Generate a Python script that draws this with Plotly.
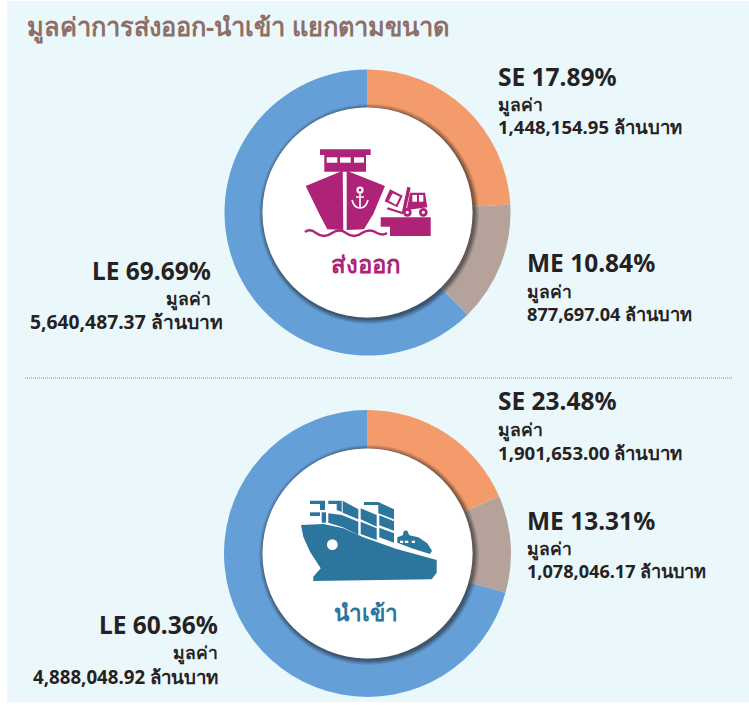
import plotly.graph_objects as go

W, H = 749, 707

# Data
segments = ["SE", "ME", "LE"]
export_drawn_share = [24.1, 13.6, 62.3]
import_drawn_share = [18.5, 10.9, 70.6]
slice_colors = ["#F49B6C", "#B5A39B", "#659FD8"]

title_text = "มูลค่าการส่งออก-นำเข้า แยกตามขนาด"
value_word = "มูลค่า"
unit_word = "ล้านบาท"
export_pct = ["17.89%", "10.84%", "69.69%"]
export_val = ["1,448,154.95", "877,697.04", "5,640,487.37"]
import_pct = ["23.48%", "13.31%", "60.36%"]
import_val = ["1,901,653.00", "1,078,046.17", "4,888,048.92"]

PANEL = "#EBF8FB"
INK = "#262223"
MAG = "#AE2277"
TEAL = "#2C769E"
FONT = "Noto Sans, Lato, DejaVu Sans, sans-serif"

CX, CY_TOP, CY_BOT = 367.5, 212.5, 553.5
R_TOP, R_BOT = 143, 143.5
RI = 105


def pie(vals, cy, r):
    return go.Pie(
        labels=segments, values=vals, sort=False, direction="clockwise", rotation=0,
        hole=RI / r, textinfo="none", hoverinfo="label+percent",
        marker=dict(colors=slice_colors, line=dict(width=0)), showlegend=False,
        domain=dict(x=[(CX - r) / W, (CX + r) / W], y=[1 - (cy + r) / H, 1 - (cy - r) / H]),
    )


fig = go.Figure([pie(export_drawn_share, CY_TOP, R_TOP), pie(import_drawn_share, CY_BOT, R_BOT)])
shapes = []


def rect(x0, y0, x1, y1, color, layer="above"):
    shapes.append(dict(type="rect", xref="x", yref="y", x0=x0, y0=y0, x1=x1, y1=y1,
                       fillcolor=color, line_width=0, layer=layer))


def circle(cx, cy, r, color):
    shapes.append(dict(type="circle", xref="x", yref="y", x0=cx - r, x1=cx + r, y0=cy - r, y1=cy + r,
                       fillcolor=color, line_width=0, layer="above"))


def poly(pts, color, ox, oy):
    path = "M " + " L ".join(f"{ox + a / 3:.1f},{oy + b / 3:.1f}" for a, b in pts) + " Z"
    shapes.append(dict(type="path", xref="x", yref="y", path=path, fillcolor=color, line_width=0, layer="above"))


def stroke(path, color, width):
    shapes.append(dict(type="path", xref="x", yref="y", path=path, line=dict(color=color, width=width),
                       fillcolor="rgba(0,0,0,0)", layer="above"))


rect(7, 1, 749, 702, PANEL, "below")
shapes.append(dict(type="line", xref="x", yref="y", x0=25, x1=732, y0=378, y1=378,
                   line=dict(color="#8A8A8A", width=1, dash="1px,1px"), layer="below"))

for cy in (CY_TOP, CY_BOT):
    for d, a in ((6, .10), (5, .12), (4, .14), (3, .16), (2, .2)):
        circle(CX + 1.5, cy + 1.5, RI + d - 1, f"rgba(30,30,30,{a})")
    circle(CX, cy, RI, "#FFFFFF")

# Export ship icon (zoom coordinates of the crop at 290,130, divided by 3)
ox, oy = 290, 130
poly([(90, 58), (242, 58), (242, 75), (90, 75)], MAG, ox, oy)
poly([(103, 75), (228, 75), (228, 125), (103, 125)], MAG, ox, oy)
for a, b in ((110, 142), (150, 182), (192, 222)):
    poly([(a, 82), (b, 82), (b, 98), (a, 98)], "#FFFFFF", ox, oy)
poly([(47, 168), (158, 122), (160, 300), (112, 298), (88, 252)], MAG, ox, oy)
poly([(170, 122), (285, 168), (250, 252), (222, 298), (170, 300)], MAG, ox, oy)
poly([(272, 262), (422, 262), (422, 318), (300, 318), (300, 290), (272, 290)], MAG, ox, oy)
stroke("M 305,232 Q 310,228 316,233 Q 324,239 332,233 Q 340,228 346,233 Q 354,239 362,233 Q 370,228 377,233 Q 383,236 387,233",
       MAG, 2.4)
# anchor
circle(ox + 70, oy + 60, 3.6, "#FFFFFF")
circle(ox + 70, oy + 60, 1.5, MAG)
stroke("M 360,193 L 360,208 M 352,200 Q 354,208 360,208 Q 366,208 368,200 M 356,197 L 364,197", "#FFFFFF", 1.6)
# forklift
poly([(300, 178), (338, 197), (322, 232), (284, 214)], MAG, ox, oy)
poly([(308, 190), (330, 200), (318, 224), (296, 212)], "#FFFFFF", ox, oy)
poly([(352, 170), (362, 173), (345, 250), (335, 250)], MAG, ox, oy)
poly([(293, 232), (340, 247), (338, 253), (290, 238)], MAG, ox, oy)
poly([(360, 188), (405, 188), (412, 232), (350, 240)], MAG, ox, oy)
poly([(367, 195), (381, 195), (381, 215), (367, 215)], "#FFFFFF", ox, oy)
poly([(387, 195), (400, 195), (400, 215), (387, 215)], "#FFFFFF", ox, oy)
for a in (352, 400):
    circle(ox + a / 3, oy + 247 / 3, 4.4, MAG)
    circle(ox + a / 3, oy + 247 / 3, 1.6, "#FFFFFF")

# Import ship icon (crop at 290,480)
ox, oy = 290, 480
poly([(33, 135), (100, 132), (160, 145), (220, 172), (320, 207), (440, 240), (440, 278), (425, 298), (70, 303),
      (70, 290), (92, 265), (60, 215), (40, 170)], TEAL, ox, oy)
circle(ox + 127 / 3, oy + 194 / 3, 5.4, "#FFFFFF")
for p in (
    [(60, 62), (105, 62), (105, 90), (90, 90), (90, 72), (60, 72)],
    [(60, 97), (90, 97), (90, 108), (60, 108)],
    [(95, 97), (108, 97), (108, 128), (95, 128)],
    [(115, 62), (155, 62), (155, 96), (140, 90), (140, 72), (115, 72)],
    [(158, 62), (205, 88), (205, 118), (158, 98)],
    [(115, 100), (155, 105), (205, 125), (205, 165), (158, 142), (115, 128)],
    [(212, 85), (260, 105), (260, 140), (212, 118)],
    [(212, 125), (260, 145), (260, 180), (212, 162)],
    [(222, 66), (265, 66), (312, 88), (312, 118), (265, 100), (265, 75), (222, 75)],
    [(268, 106), (312, 124), (312, 152), (268, 136)],
    [(268, 143), (312, 160), (312, 188), (268, 172)],
):
    poly(p, TEAL, ox, oy)
poly([(322, 172), (338, 166), (342, 152), (352, 152), (358, 166), (385, 172), (412, 190), (426, 212), (420, 222),
      (365, 205), (322, 188)], TEAL, ox, oy)
for a in (330, 345, 365):
    poly([(a, 182), (a + 10, 182), (a + 10, 189), (a, 189)], "#FFFFFF", ox, oy)

# Texts
ann = []


def txt(x, y, s, size, color=INK, anchor="left", bold=True):
    ann.append(dict(x=x, y=y, xref="x", yref="y", text=f"<b>{s}</b>" if bold else s, showarrow=False,
                    xanchor=anchor, yanchor="middle", align=anchor,
                    font=dict(family=FONT, size=size, color=color), borderpad=0, borderwidth=0))


def block(x, ys, seg, pct, val, anchor, val_size, x_val=None):
    txt(x, ys[0], f"{seg} {pct}", 24.5, anchor=anchor)
    txt(x, ys[1], value_word, 17.5, anchor=anchor)
    txt(x if x_val is None else x_val, ys[2], f"{val} {unit_word}", val_size, anchor=anchor)


txt(27, 26, title_text, 25.4, color="#8E6F68")
block(498, (76, 104, 126), segments[0], export_pct[0], export_val[0], "left", 18.5)
block(527, (262, 291, 314), segments[1], export_pct[1], export_val[1], "left", 18.2)
block(211, (270, 298, 321), segments[2], export_pct[2], export_val[2], "right", 19.3, x_val=223)
block(498, (400, 429, 452), segments[0], import_pct[0], import_val[0], "left", 18.6)
block(527, (520, 548, 571), segments[1], import_pct[1], import_val[1], "left", 18.1)
block(218, (624, 652, 676), segments[2], import_pct[2], import_val[2], "right", 18.7)
txt(366, 263, "ส่งออก", 24, color=MAG, anchor="center")
txt(366, 612, "นำเข้า", 22.5, color=TEAL, anchor="center")

axis = dict(visible=False, showgrid=False, zeroline=False, fixedrange=True, domain=[0, 1])
fig.update_layout(
    width=W, height=H, margin=dict(l=0, r=0, t=0, b=0, pad=0), autosize=False,
    paper_bgcolor="#FFFFFF", plot_bgcolor="#FFFFFF", showlegend=False,
    xaxis=dict(range=[0, W], **axis), yaxis=dict(range=[H, 0], **axis),
    shapes=shapes, annotations=ann,
)
fig.write_html("out.html", config=dict(displayModeBar=False),
               post_script="document.body.style.margin='0';document.documentElement.style.overflow='hidden';")
